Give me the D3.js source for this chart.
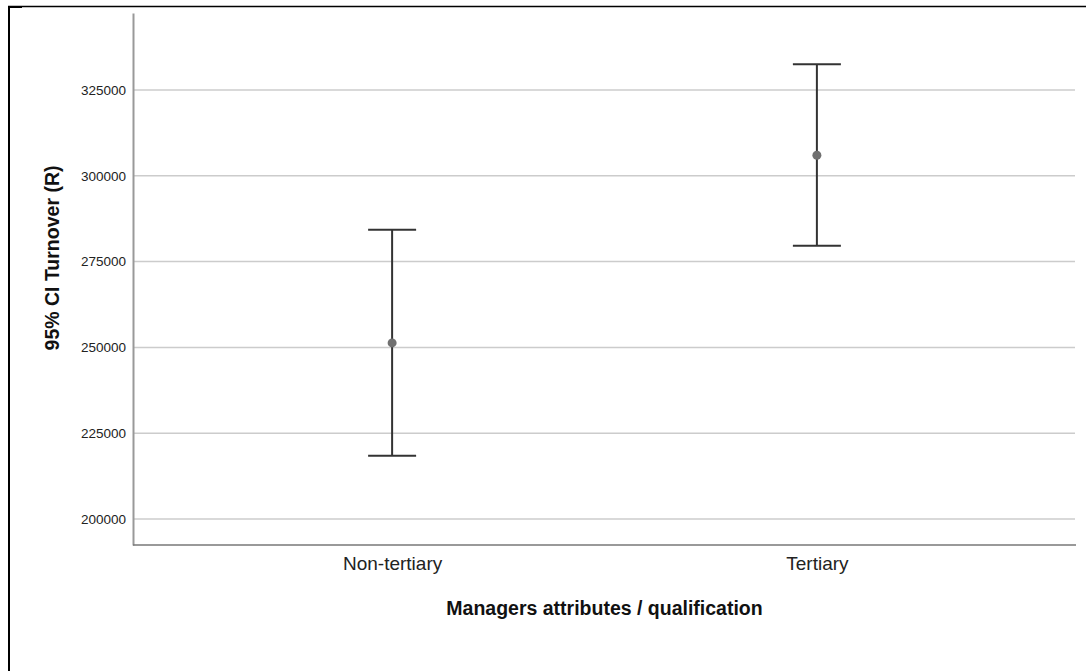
<!DOCTYPE html>
<html><head><meta charset="utf-8">
<script src="https://cdn.jsdelivr.net/npm/d3@7"></script>
<style>body{margin:0;background:#fff}svg{display:block}text{font-family:Arial,"Liberation Sans",sans-serif}</style>
</head><body>
<script>
const categories = ["Non-tertiary", "Tertiary"];
const means = [251300, 306000];
const lowerCI = [218400, 279600];
const upperCI = [284300, 332500];
const yTicks = [200000, 225000, 250000, 275000, 300000, 325000];
const xTitle = "Managers attributes / qualification";
const yTitle = "95% CI Turnover (R)";

(function () {
const W = 1086, H = 671;
const svg = d3.select("body").append("svg").attr("width", W).attr("height", H);

// frame lines
svg.append("line").attr("x1", 9).attr("x2", 9).attr("y1", 6).attr("y2", H).attr("stroke", "#000").attr("stroke-width", 2);
svg.append("line").attr("x1", 8).attr("x2", W).attr("y1", 6.5).attr("y2", 6.5).attr("stroke", "#000").attr("stroke-width", 1.5);
svg.append("line").attr("x1", 8).attr("x2", 22).attr("y1", 7).attr("y2", 7).attr("stroke", "#000").attr("stroke-width", 2);

const pL = 133, pR = 1076, pT = 13, pB = 545;
const y = d3.scaleLinear().domain([192420, 347440]).range([pB, pT]);
const x = d3.scalePoint().domain(categories).range([pL, pR]).padding(0.61);

// gridlines
svg.append("g").selectAll("line").data(yTicks).join("line")
  .attr("x1", pL).attr("x2", pR - 1)
  .attr("y1", d => y(d)).attr("y2", d => y(d))
  .attr("stroke", "#cccccc").attr("stroke-width", 1.5);

// y axis
const yAxis = svg.append("g").attr("transform", `translate(${pL},0)`)
  .call(d3.axisLeft(y).tickValues(yTicks).tickSize(0).tickPadding(7).tickFormat(d3.format("d")));
yAxis.select(".domain").attr("stroke", "#999").attr("stroke-width", 2);
yAxis.selectAll("text").attr("font-size", 13.5).attr("fill", "#222");

// x axis
const xAxis = svg.append("g").attr("transform", `translate(0,${pB})`)
  .call(d3.axisBottom(x).tickSize(0).tickPadding(12));
xAxis.select(".domain").attr("stroke", "#777").attr("stroke-width", 1.5).attr("d", `M${pL},0H${pR}`);
xAxis.selectAll("text").attr("font-size", 19).attr("fill", "#222");

// error bars
const idx = d3.range(categories.length);
const cap = 24;
const g = svg.append("g").attr("stroke", "#333").attr("stroke-width", 2);
g.selectAll(".v").data(idx).join("line").attr("class", "v")
  .attr("x1", i => x(categories[i])).attr("x2", i => x(categories[i]))
  .attr("y1", i => y(upperCI[i])).attr("y2", i => y(lowerCI[i]));
g.selectAll(".t").data(idx).join("line").attr("class", "t")
  .attr("x1", i => x(categories[i]) - cap).attr("x2", i => x(categories[i]) + cap)
  .attr("y1", i => y(upperCI[i])).attr("y2", i => y(upperCI[i]));
g.selectAll(".b").data(idx).join("line").attr("class", "b")
  .attr("x1", i => x(categories[i]) - cap).attr("x2", i => x(categories[i]) + cap)
  .attr("y1", i => y(lowerCI[i])).attr("y2", i => y(lowerCI[i]));
svg.append("g").selectAll("circle").data(idx).join("circle")
  .attr("cx", i => x(categories[i])).attr("cy", i => y(means[i]))
  .attr("r", 4.5).attr("fill", "#707070");

// titles
svg.append("text").attr("x", (pL + pR) / 2).attr("y", 615).attr("text-anchor", "middle")
  .attr("font-size", 19.5).attr("font-weight", "bold").attr("fill", "#111").text(xTitle);
svg.append("text").attr("transform", `translate(59,258) rotate(-90)`).attr("text-anchor", "middle")
  .attr("font-size", 19.5).attr("font-weight", "bold").attr("fill", "#111").text(yTitle);
})();
</script>
</body></html>
